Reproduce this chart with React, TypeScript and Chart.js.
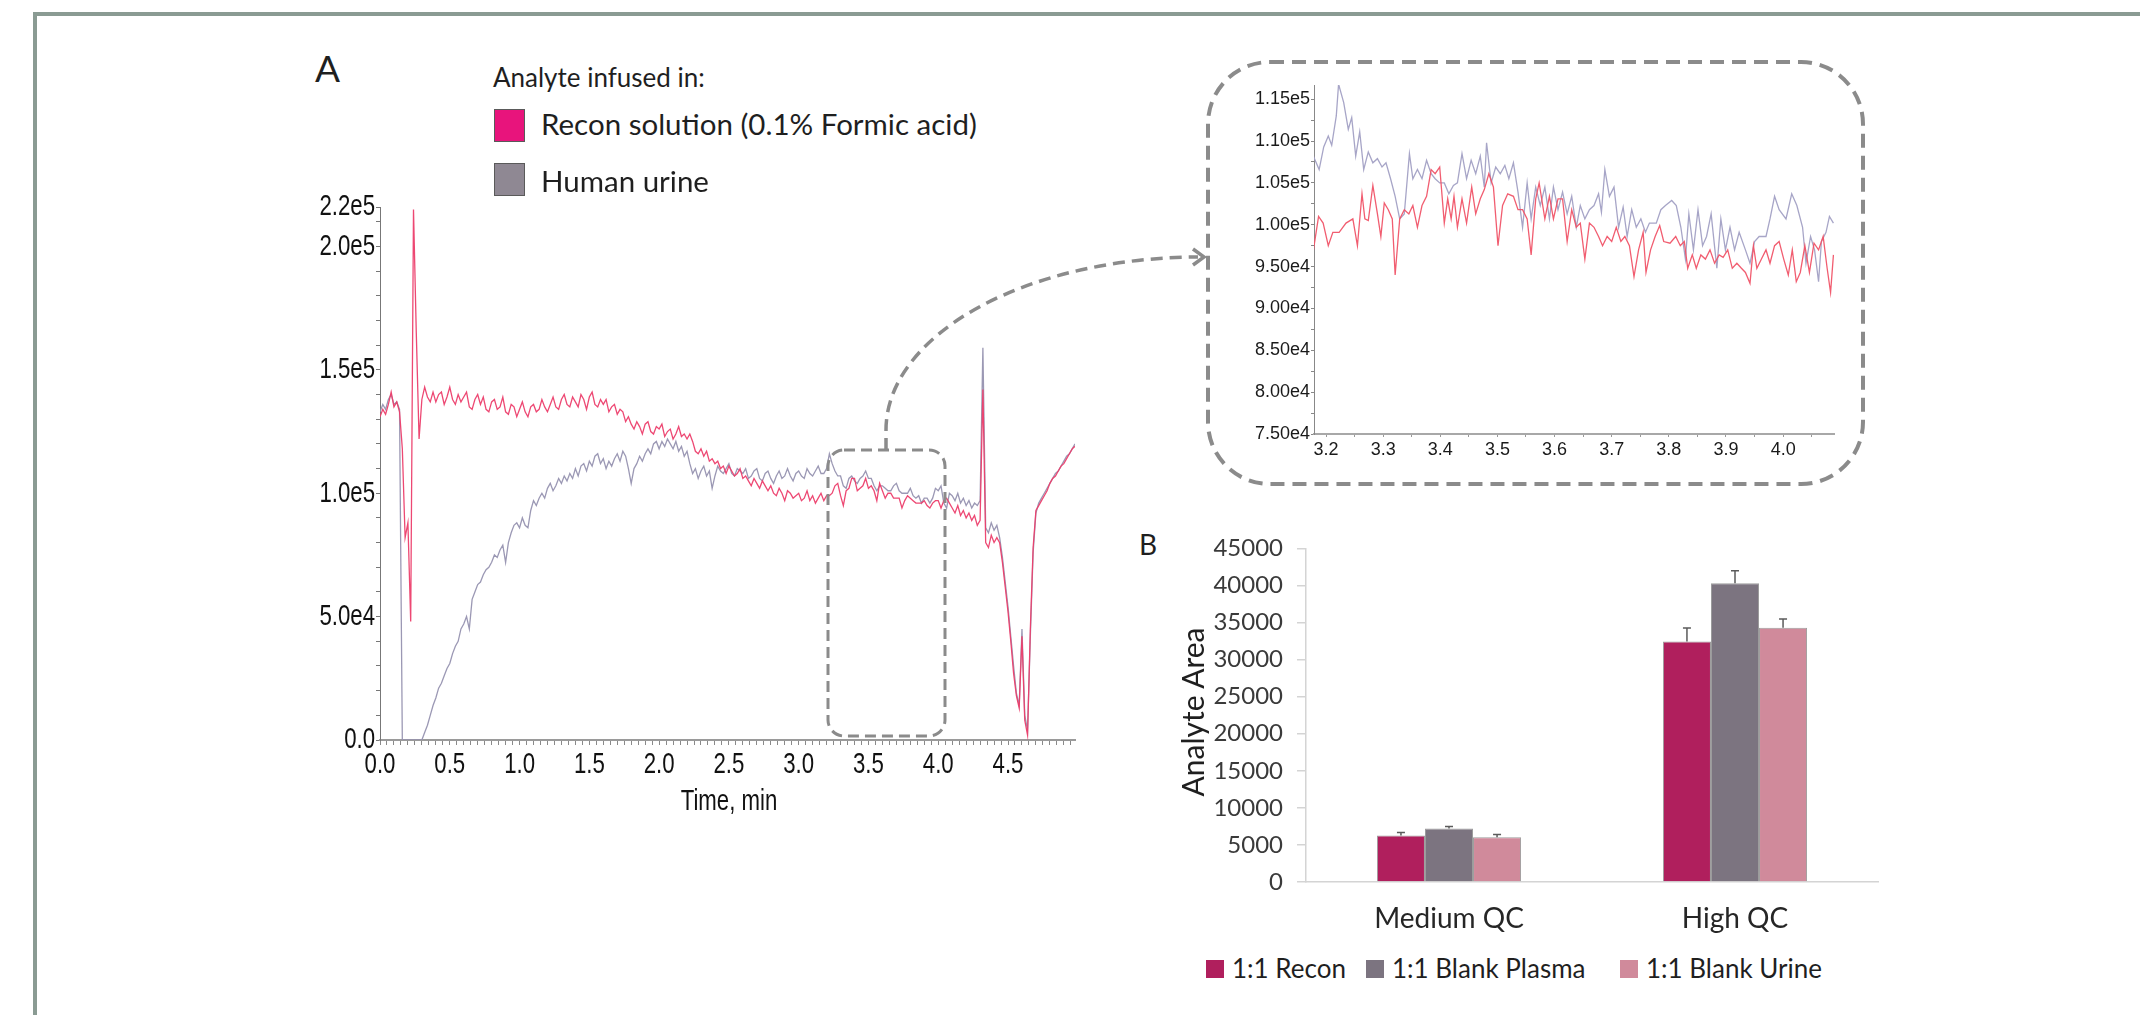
import React, { useEffect, useRef } from "react";
import { Chart, registerables } from "chart.js";

Chart.register(...registerables);

// ---------------- Panel A: post-column infusion traces (values in 1e3 counts) ----------------
const MAIN_TIME_STEP_MIN = 0.02; // sampling interval of the traces below (t = 0.00 ... 4.98 min)

const RECON_MAIN_K = [
  131, 134, 132, 136, 141, 135, 137, 133, 118, 82,
  88, 48, 215, 165, 122, 138, 143, 139, 137, 141,
  137, 140, 141, 136, 139, 143, 138, 136, 140, 137,
  139, 141, 135, 134, 138, 140, 136, 139, 134, 133,
  137, 138, 134, 135, 139, 133, 132, 136, 135, 131,
  134, 137, 133, 131, 135, 136, 133, 134, 138, 135,
  133, 136, 139, 135, 134, 138, 140, 136, 135, 139,
  137, 135, 140, 138, 134, 139, 141, 136, 135, 138,
  136, 138, 133, 135, 136, 132, 134, 133, 129, 131,
  128, 126, 129, 127, 124, 128, 129, 125, 124, 127,
  126, 128, 123, 125, 126, 122, 124, 127, 123, 124,
  122, 124, 121, 117, 116, 118, 115, 117, 113, 114,
  112, 113, 110, 111, 108, 111, 109, 107, 108, 110,
  106, 107, 105, 103, 106, 104, 102, 105, 103, 101,
  103, 100, 99, 102, 100, 97, 101, 100, 98, 99,
  100, 97, 98, 101, 97, 99, 96, 98, 100, 97,
  99, 99, 100, 103, 104, 99, 95, 101, 102, 106,
  106, 101, 102, 103, 106, 102, 103, 101, 97, 104,
  101, 98, 100, 100, 98, 98, 98, 94, 97, 99,
  98, 97, 96, 96, 96, 97, 95, 94, 96, 97,
  97, 94, 97, 98, 96, 94, 92, 95, 91, 93,
  90, 92, 89, 91, 87, 89, 142, 80, 78, 83,
  80, 82, 80, 72, 62, 52, 40, 27, 18, 13,
  42, 8, 2, 45, 78, 93, 95, 97, 99, 101,
  104, 106, 107, 109, 111, 112, 114, 116, 118, 119,
];

const URINE_MAIN_K = [
  133, 136, 134, 138, 140, 136, 137, 134, 0, 0,
  0, 0, 0, 0, 0, 0, 3, 6, 10, 14,
  17, 21, 23, 26, 29, 31, 35, 38, 40, 45,
  47, 50, 45, 57, 60, 63, 64, 67, 69, 70,
  72, 75, 74, 77, 79, 72, 80, 84, 87, 88,
  86, 90, 87, 86, 93, 97, 95, 98, 100, 98,
  102, 104, 101, 103, 106, 104, 107, 105, 108, 106,
  110, 107, 111, 112, 109, 113, 111, 115, 116, 112,
  114, 110, 113, 111, 114, 116, 113, 117, 115, 110,
  104, 110, 112, 115, 113, 116, 118, 116, 120, 121,
  118, 121, 119, 122, 120, 118, 121, 117, 119, 115,
  117, 112, 108, 110, 106, 109, 111, 107, 109, 102,
  107, 111, 109, 108, 110, 112, 108, 107, 110, 109,
  108, 110, 106, 107, 109, 110, 106, 105, 108, 109,
  106, 104, 107, 109, 106, 107, 110, 107, 105, 108,
  109, 107, 106, 110, 108, 107, 109, 111, 108, 108,
  110, 116, 112, 109, 107, 107, 103, 102, 106, 107,
  105, 104, 106, 107, 109, 106, 106, 103, 101, 103,
  103, 102, 101, 101, 103, 104, 101, 100, 100, 100,
  102, 99, 98, 99, 96, 98, 98, 96, 98, 102,
  101, 103, 96, 94, 100, 99, 97, 100, 96, 98,
  95, 97, 94, 96, 95, 97, 159, 86, 84, 88,
  85, 87, 82, 74, 64, 54, 42, 30, 19, 14,
  45, 10, 4, 42, 76, 92, 96, 98, 100, 102,
  104, 106, 108, 109, 111, 113, 115, 116, 118, 120,
];

const MAIN_X_LABEL_VALUES = [0, 0.5, 1, 1.5, 2, 2.5, 3, 3.5, 4, 4.5];
const MAIN_X_LABELS = ["0.0", "0.5", "1.0", "1.5", "2.0", "2.5", "3.0", "3.5", "4.0", "4.5"];
const MAIN_Y_TICK_VALUES = [0, 50000, 100000, 150000, 200000, 216000];
const MAIN_Y_TICK_LABELS = ["0.0", "5.0e4", "1.0e5", "1.5e5", "2.0e5", "2.2e5"];

// ---------------- Inset (zoom of 3.18 - 4.09 min) ----------------
const URINE_INSET_T = [
  3.178, 3.188, 3.196, 3.204, 3.21, 3.218, 3.222, 3.231, 3.239, 3.245,
  3.252, 3.259, 3.266, 3.274, 3.282, 3.29, 3.298, 3.305, 3.313, 3.321,
  3.329, 3.337, 3.346, 3.352, 3.36, 3.368, 3.376, 3.384, 3.391, 3.399,
  3.407, 3.415, 3.423, 3.43, 3.438, 3.446, 3.454, 3.462, 3.47, 3.477,
  3.481, 3.489, 3.497, 3.505, 3.513, 3.52, 3.528, 3.536, 3.544, 3.552,
  3.559, 3.567, 3.575, 3.583, 3.591, 3.598, 3.606, 3.614, 3.622, 3.63,
  3.638, 3.645, 3.653, 3.661, 3.669, 3.677, 3.682, 3.688, 3.696, 3.704,
  3.712, 3.72, 3.727, 3.735, 3.743, 3.751, 3.759, 3.766, 3.778, 3.786,
  3.794, 3.805, 3.813, 3.821, 3.829, 3.835, 3.843, 3.851, 3.859, 3.866,
  3.874, 3.884, 3.891, 3.899, 3.907, 3.915, 3.923, 3.934, 3.942, 3.95,
  3.958, 3.97, 3.977, 3.985, 3.993, 4.005, 4.015, 4.024, 4.034, 4.04,
  4.048, 4.055, 4.062, 4.067, 4.075, 4.081, 4.088,
];
const URINE_INSET_K = [
  108.2, 106.6, 109.3, 110.6, 109.5, 113.0, 116.8, 114.6, 111.4, 112.8,
  108.2, 111.1, 106.6, 108.7, 107.4, 107.9, 106.9, 107.4, 105.5, 103.4,
  100.7, 101.3, 108.5, 105.5, 106.6, 105.5, 107.7, 106.1, 105.5, 105.0,
  105.0, 103.7, 104.7, 105.0, 108.5, 105.5, 107.7, 106.1, 108.2, 104.5,
  109.8, 105.0, 106.9, 106.1, 107.1, 105.5, 107.4, 103.9, 99.7, 105.0,
  100.7, 104.5, 102.3, 104.5, 100.7, 104.5, 101.8, 103.9, 101.3, 103.4,
  99.7, 102.3, 100.7, 101.8, 102.3, 103.7, 101.5, 106.6, 103.4, 104.5,
  99.7, 102.1, 98.6, 101.8, 99.7, 100.7, 99.1, 100.2, 100.2, 101.8,
  102.3, 102.9, 102.3, 99.7, 95.9, 101.3, 97.0, 101.8, 97.5, 98.6,
  101.3, 94.8, 100.7, 97.0, 99.7, 97.0, 99.1, 97.0, 95.4, 98.0,
  98.6, 98.6, 100.7, 103.4, 101.8, 100.7, 103.7, 102.3, 99.7, 95.4,
  98.6, 97.0, 93.2, 98.0, 99.1, 101.0, 100.2,
];
const RECON_INSET_T = [
  3.178, 3.187, 3.195, 3.204, 3.212, 3.223, 3.235, 3.247, 3.255, 3.263,
  3.268, 3.274, 3.282, 3.29, 3.296, 3.302, 3.309, 3.316, 3.321, 3.329,
  3.337, 3.345, 3.352, 3.36, 3.368, 3.376, 3.384, 3.391, 3.399, 3.407,
  3.413, 3.419, 3.424, 3.43, 3.438, 3.446, 3.455, 3.462, 3.47, 3.477,
  3.485, 3.493, 3.501, 3.509, 3.518, 3.528, 3.536, 3.544, 3.552, 3.559,
  3.567, 3.573, 3.583, 3.591, 3.598, 3.606, 3.614, 3.622, 3.63, 3.638,
  3.645, 3.653, 3.661, 3.669, 3.677, 3.684, 3.692, 3.7, 3.708, 3.716,
  3.723, 3.731, 3.739, 3.747, 3.755, 3.76, 3.768, 3.776, 3.784, 3.791,
  3.802, 3.812, 3.82, 3.827, 3.833, 3.841, 3.848, 3.856, 3.864, 3.872,
  3.88, 3.888, 3.895, 3.903, 3.911, 3.919, 3.927, 3.934, 3.942, 3.948,
  3.954, 3.962, 3.97, 3.977, 3.985, 3.993, 4.001, 4.009, 4.016, 4.023,
  4.03, 4.038, 4.046, 4.054, 4.062, 4.07, 4.077, 4.083, 4.088,
];
const RECON_INSET_K = [
  97.0, 101.0, 100.2, 97.5, 99.1, 99.1, 100.2, 100.7, 97.5, 103.7,
  100.7, 100.5, 104.7, 101.3, 98.6, 102.6, 101.8, 100.7, 94.0, 100.7,
  101.8, 101.3, 102.3, 99.7, 102.3, 103.4, 106.6, 106.1, 106.9, 100.2,
  103.1, 100.7, 103.4, 99.7, 103.1, 100.2, 104.5, 101.3, 103.1, 104.2,
  106.1, 104.5, 97.5, 102.3, 103.7, 103.4, 101.8, 101.8, 100.7, 96.4,
  103.1, 105.0, 100.7, 103.4, 100.7, 103.1, 103.1, 98.0, 101.8, 99.7,
  100.2, 95.9, 100.2, 99.7, 98.6, 97.5, 98.6, 98.0, 99.7, 98.0,
  98.6, 97.5, 93.8, 97.0, 99.1, 94.3, 97.0, 98.6, 99.9, 98.0,
  97.8, 98.6, 97.5, 98.0, 94.8, 96.4, 94.8, 96.4, 95.9, 97.0,
  95.4, 96.4, 96.1, 97.0, 94.8, 95.4, 94.8, 94.3, 93.0, 97.5,
  94.8, 95.9, 97.0, 95.4, 97.5, 98.0, 95.9, 94.0, 97.0, 93.2,
  94.3, 97.5, 94.3, 97.8, 97.0, 98.6, 94.8, 91.9, 96.4,
];
const INSET_X_LABEL_VALUES = [3.2, 3.3, 3.4, 3.5, 3.6, 3.7, 3.8, 3.9, 4.0];
const INSET_X_LABELS = ["3.2", "3.3", "3.4", "3.5", "3.6", "3.7", "3.8", "3.9", "4.0"];
const INSET_Y_TICK_VALUES = [75000, 80000, 85000, 90000, 95000, 100000, 105000, 110000, 115000];
const INSET_Y_TICK_LABELS = ["7.50e4", "8.00e4", "8.50e4", "9.00e4", "9.50e4", "1.00e5", "1.05e5", "1.10e5", "1.15e5"];

// ---------------- Panel B: analyte area ----------------
const QC_LEVELS = ["Medium QC", "High QC"];
const RECON_AREA = [6280, 32450];
const RECON_ERR = [400, 1800];
const PLASMA_AREA = [7200, 40300];
const PLASMA_ERR = [280, 1700];
const URINE_AREA = [6020, 34300];
const URINE_ERR = [380, 1170];
const AREA_SERIES = ["1:1 Recon", "1:1 Blank Plasma", "1:1 Blank Urine"];

// ---------------- styling ----------------
const ARIAL = "'Liberation Sans', Arial, sans-serif";
const CAL = "Lato, 'Open Sans', sans-serif";
const GRAY_DASH = "#8b8b8b";
const CONDENSE = 0.74; // horizontal squeeze of the instrument-software tick font

const near = (a: number, b: number) => Math.abs(a - b) < 1e-6;

const errorBarPlugin = {
  id: "errorBars",
  afterDatasetsDraw(chart: any) {
    const errs = [RECON_ERR, PLASMA_ERR, URINE_ERR];
    const ctx = chart.ctx;
    const y = chart.scales.y;
    chart.data.datasets.forEach((ds: any, i: number) => {
      const meta = chart.getDatasetMeta(i);
      meta.data.forEach((bar: any, j: number) => {
        const top = y.getPixelForValue(ds.data[j] + errs[i][j]);
        ctx.save();
        ctx.strokeStyle = "#5b5b5b";
        ctx.lineWidth = 1.5;
        ctx.beginPath();
        ctx.moveTo(bar.x, bar.y);
        ctx.lineTo(bar.x, top);
        ctx.moveTo(bar.x - 4, top);
        ctx.lineTo(bar.x + 4, top);
        ctx.stroke();
        ctx.restore();
      });
    });
  },
};

function condenseContext(canvas: HTMLCanvasElement, sx: number) {
  const ctx = canvas.getContext("2d") as any;
  if (ctx.__condensed) return;
  const orig = ctx.fillText.bind(ctx);
  ctx.fillText = (text: string, x: number, y: number) => {
    ctx.save();
    ctx.translate(x, y);
    ctx.scale(sx, 1);
    orig(text, 0, 0);
    ctx.restore();
  };
  ctx.__condensed = true;
}

function Txt(props: { x: number; y: number; size: number; family?: string; color?: string; children: any; style?: any }) {
  return (
    <div
      style={{
        position: "absolute",
        left: props.x,
        top: props.y,
        fontSize: props.size,
        fontFamily: props.family || CAL,
        color: props.color || "#1f1f1f",
        lineHeight: 1,
        whiteSpace: "nowrap",
        ...(props.style || {}),
      }}
    >
      {props.children}
    </div>
  );
}

export default function App() {
  const mainRef = useRef<HTMLCanvasElement>(null);
  const insetRef = useRef<HTMLCanvasElement>(null);
  const barRef = useRef<HTMLCanvasElement>(null);

  useEffect(() => {
    const times = RECON_MAIN_K.map((_, i) => +(i * MAIN_TIME_STEP_MIN).toFixed(2));
    condenseContext(mainRef.current!, CONDENSE);
    const main = new Chart(mainRef.current!, {
      type: "line",
      data: {
        datasets: [
          {
            label: "Recon solution (0.1% Formic acid)",
            data: times.map((t, i) => ({ x: t, y: RECON_MAIN_K[i] * 1000 })),
            borderColor: "rgba(236,62,108,0.95)",
            borderWidth: 1.3,
            pointRadius: 0,
            tension: 0,
          },
          {
            label: "Human urine",
            data: times.map((t, i) => ({ x: t, y: URINE_MAIN_K[i] * 1000 })),
            borderColor: "rgba(150,146,176,0.95)",
            borderWidth: 1.3,
            pointRadius: 0,
            tension: 0,
          },
        ],
      },
      options: {
        responsive: false,
        animation: false,
        events: [],
        layout: { padding: { top: 20, right: 25, left: 0, bottom: 0 } },
        plugins: { legend: { display: false }, tooltip: { enabled: false } },
        scales: {
          x: {
            type: "linear",
            min: 0,
            max: 4.98,
            afterBuildTicks: (s: any) => {
              const arr: any[] = [];
              for (let k = 0; k <= 99; k++) arr.push({ value: +(k * 0.05).toFixed(2) });
              s.ticks = arr;
            },
            afterFit: (s: any) => {
              s.height = 100;
            },
            grid: { drawOnChartArea: false, drawTicks: true, tickLength: 5, color: "#8a8a8a", lineWidth: 1 },
            border: { color: "#9a9a9a", width: 2 },
            ticks: {
              autoSkip: false,
              maxRotation: 0,
              padding: 2,
              color: "#111",
              font: { family: ARIAL, size: 30 },
              callback: (v: any) => {
                const idx = MAIN_X_LABEL_VALUES.findIndex((m) => near(m, Number(v)));
                return idx >= 0 ? MAIN_X_LABELS[idx] : "";
              },
            },
          },
          y: {
            type: "linear",
            min: 0,
            max: 216000,
            afterBuildTicks: (s: any) => {
              const arr: any[] = [];
              for (let k = 0; k <= 21; k++) arr.push({ value: k * 10000 });
              arr.push({ value: 216000 });
              s.ticks = arr;
            },
            afterFit: (s: any) => {
              s.width = 110;
            },
            grid: { drawOnChartArea: false, drawTicks: true, tickLength: 4, color: "#777", lineWidth: 1 },
            border: { color: "#777", width: 1 },
            ticks: {
              autoSkip: false,
              padding: 1,
              color: "#111",
              font: { family: ARIAL, size: 30 },
              callback: (v: any) => {
                const idx = MAIN_Y_TICK_VALUES.indexOf(Number(v));
                return idx >= 0 ? MAIN_Y_TICK_LABELS[idx] : "";
              },
            },
          },
        },
      },
    });

    const inset = new Chart(insetRef.current!, {
      type: "line",
      data: {
        datasets: [
          {
            label: "Recon solution (0.1% Formic acid)",
            data: RECON_INSET_T.map((t, i) => ({ x: t, y: RECON_INSET_K[i] * 1000 })),
            borderColor: "rgba(240,84,104,0.95)",
            borderWidth: 1.3,
            pointRadius: 0,
            tension: 0,
          },
          {
            label: "Human urine",
            data: URINE_INSET_T.map((t, i) => ({ x: t, y: URINE_INSET_K[i] * 1000 })),
            borderColor: "rgba(162,160,196,0.95)",
            borderWidth: 1.3,
            pointRadius: 0,
            tension: 0,
          },
        ],
      },
      options: {
        responsive: false,
        animation: false,
        events: [],
        layout: { padding: { top: 15, right: 16, left: 0, bottom: 0 } },
        plugins: { legend: { display: false }, tooltip: { enabled: false } },
        scales: {
          x: {
            type: "linear",
            min: 3.179,
            max: 4.089,
            afterBuildTicks: (s: any) => {
              const arr: any[] = [];
              for (let k = 0; k <= 17; k++) arr.push({ value: +(3.2 + k * 0.05).toFixed(2) });
              s.ticks = arr;
            },
            afterFit: (s: any) => {
              s.height = 40;
            },
            grid: { drawOnChartArea: false, drawTicks: true, tickLength: 3, color: "#999", lineWidth: 1 },
            border: { color: "#a8a8a8", width: 2 },
            ticks: {
              autoSkip: false,
              maxRotation: 0,
              padding: 2,
              color: "#1a1a1a",
              font: { family: ARIAL, size: 18 },
              callback: (v: any) => {
                const idx = INSET_X_LABEL_VALUES.findIndex((m) => near(m, Number(v)));
                return idx >= 0 ? INSET_X_LABELS[idx] : "";
              },
            },
          },
          y: {
            type: "linear",
            min: 75000,
            max: 116700,
            afterBuildTicks: (s: any) => {
              const arr: any[] = [];
              for (let k = 0; k <= 16; k++) arr.push({ value: 75000 + k * 2500 });
              s.ticks = arr;
            },
            afterFit: (s: any) => {
              s.width = 84;
            },
            grid: { drawOnChartArea: false, drawTicks: true, tickLength: 3, color: "#888", lineWidth: 1 },
            border: { color: "#888", width: 1 },
            ticks: {
              autoSkip: false,
              padding: 1,
              color: "#1a1a1a",
              font: { family: ARIAL, size: 18 },
              callback: (v: any) => {
                const idx = INSET_Y_TICK_VALUES.indexOf(Number(v));
                return idx >= 0 ? INSET_Y_TICK_LABELS[idx] : "";
              },
            },
          },
        },
      },
    });

    const bars = new Chart(barRef.current!, {
      type: "bar",
      data: {
        labels: QC_LEVELS,
        datasets: [
          { label: AREA_SERIES[0], data: RECON_AREA, backgroundColor: "#b01f5d" },
          { label: AREA_SERIES[1], data: PLASMA_AREA, backgroundColor: "#7c7480" },
          { label: AREA_SERIES[2], data: URINE_AREA, backgroundColor: "#d08a9b" },
        ].map((d) => ({
          ...d,
          borderColor: "#9d9d9d",
          borderWidth: 1,
          barPercentage: 1,
          categoryPercentage: 0.504,
        })),
      },
      options: {
        responsive: false,
        animation: false,
        events: [],
        layout: { padding: { top: 18, right: 20, left: 0, bottom: 0 } },
        plugins: { legend: { display: false }, tooltip: { enabled: false } },
        scales: {
          x: {
            afterFit: (s: any) => {
              s.height = 60;
            },
            grid: { display: true, drawOnChartArea: false, drawTicks: false },
            border: { color: "#d4d4d4", width: 1.5 },
            ticks: { padding: 20, color: "#262626", font: { family: CAL, size: 28 } },
          },
          y: {
            min: 0,
            max: 45000,
            afterFit: (s: any) => {
              s.width = 120;
            },
            grid: { drawOnChartArea: false, drawTicks: true, tickLength: 9, color: "#d4d4d4", lineWidth: 1.5 },
            border: { color: "#d4d4d4", width: 1.5 },
            ticks: {
              stepSize: 5000,
              padding: 14,
              color: "#3a3a3a",
              font: { family: CAL, size: 24 },
              callback: (v: any) => String(v),
            },
          },
        },
      },
      plugins: [errorBarPlugin],
    });

    return () => {
      main.destroy();
      inset.destroy();
      bars.destroy();
    };
  }, []);

  return (
    <div
      style={{
        position: "absolute",
        left: 0,
        top: 0,
        width: 2140,
        height: 1015,
        background: "#ffffff",
        overflow: "hidden",
      }}
    >
      <canvas ref={mainRef} width={830} height={653} style={{ position: "absolute", left: 270, top: 187, display: "block" }} />
      <canvas ref={insetRef} width={620} height={404} style={{ position: "absolute", left: 1230, top: 70, display: "block" }} />
      <canvas ref={barRef} width={712} height={422} style={{ position: "absolute", left: 1186, top: 520, display: "block" }} />

      {/* Panel A annotations */}
      <Txt x={315} y={49} size={37}>A</Txt>
      <Txt x={493} y={64} size={26}>Analyte infused in:</Txt>
      <div style={{ position: "absolute", left: 494, top: 109, width: 31, height: 33, background: "#e8147c", border: "1.5px solid #5a5a5a", boxSizing: "border-box" }} />
      <Txt x={541} y={109} size={29.5}>Recon solution (0.1% Formic acid)</Txt>
      <div style={{ position: "absolute", left: 494, top: 163, width: 31, height: 33, background: "#8f8893", border: "1.5px solid #5a5a5a", boxSizing: "border-box" }} />
      <Txt x={541} y={166} size={29.5}>Human urine</Txt>
      <Txt
        x={729}
        y={785}
        size={30}
        family={ARIAL}
        color="#111"
        style={{ transform: `translateX(-50%) scaleX(${CONDENSE})` }}
      >
        Time, min
      </Txt>

      {/* Panel B annotations */}
      <Txt x={1139} y={530} size={28}>B</Txt>
      <Txt x={1192} y={712} size={30} style={{ transform: "translate(-50%, -50%) rotate(-90deg)" }}>
        Analyte Area
      </Txt>
      <div style={{ position: "absolute", left: 1206, top: 960, width: 18, height: 18, background: "#b01f5d" }} />
      <Txt x={1232} y={955} size={26}>{AREA_SERIES[0]}</Txt>
      <div style={{ position: "absolute", left: 1366, top: 960, width: 18, height: 18, background: "#7c7480" }} />
      <Txt x={1392} y={955} size={26}>{AREA_SERIES[1]}</Txt>
      <div style={{ position: "absolute", left: 1620, top: 960, width: 18, height: 18, background: "#d08a9b" }} />
      <Txt x={1646} y={955} size={26}>{AREA_SERIES[2]}</Txt>

      <svg width={2140} height={1015} style={{ position: "absolute", left: 0, top: 0, pointerEvents: "none" }}>
        <line x1={33} y1={14} x2={2140} y2={14} stroke="#8a9b93" strokeWidth={4} />
        <line x1={35} y1={12} x2={35} y2={1015} stroke="#8a9b93" strokeWidth={4} />
        <rect x={828} y={450} width={117} height={286} rx={16} fill="none" stroke={GRAY_DASH} strokeWidth={3} strokeDasharray="11 6" />
        <path d="M 886 450 L 886 430 A 314 173 0 0 1 1198 257" fill="none" stroke={GRAY_DASH} strokeWidth={3.5} strokeDasharray="12 7" />
        <polyline points="1193,249 1204,257 1193,265" fill="none" stroke={GRAY_DASH} strokeWidth={3.5} />
        <rect x={1208} y={62} width={655} height={422} rx={62} fill="none" stroke={GRAY_DASH} strokeWidth={4} strokeDasharray="14 8" />
      </svg>
    </div>
  );
}
